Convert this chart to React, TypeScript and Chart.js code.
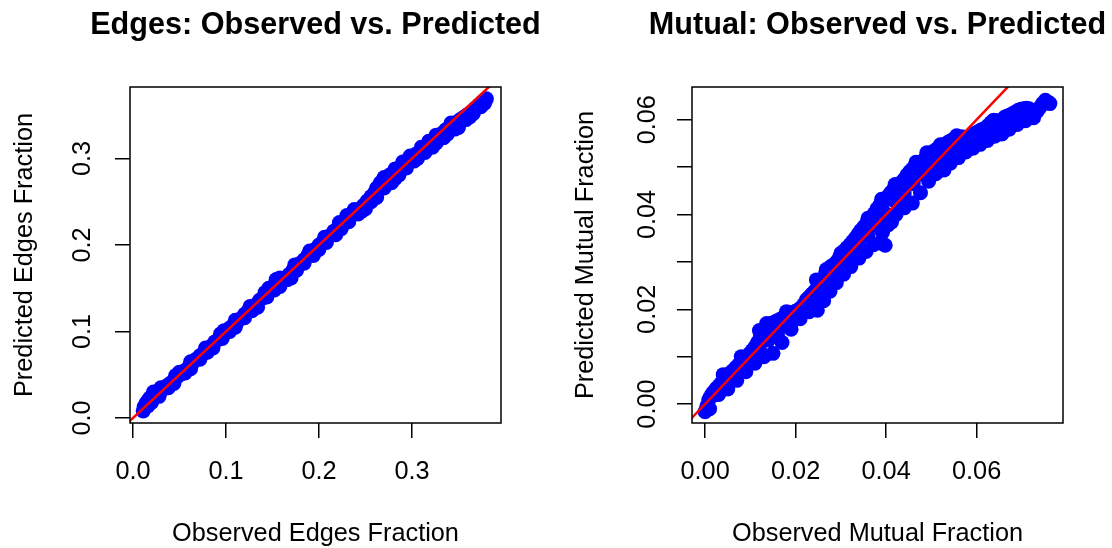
import React, { useEffect, useRef } from "react";
import { Chart, registerables } from "chart.js";

Chart.register(...registerables);

// ---------- data ----------
const edgesTitle = "Edges: Observed vs. Predicted";
const mutualTitle = "Mutual: Observed vs. Predicted";

const edgesXTicks = [0.0, 0.1, 0.2, 0.3];
const edgesXTickLabels = ["0.0", "0.1", "0.2", "0.3"];
const edgesYTicks = [0.0, 0.1, 0.2, 0.3];
const edgesYTickLabels = ["0.0", "0.1", "0.2", "0.3"];
const edgesXRange = [-0.0032, 0.3957];
const edgesYRange = [-0.0058, 0.3827];
const edgesRefLine = [-0.01, 0.42];

const mutualXTicks = [0.0, 0.02, 0.04, 0.06];
const mutualXTickLabels = ["0.00", "0.02", "0.04", "0.06"];
const mutualYTicks = [0.0, 0.01, 0.02, 0.03, 0.04, 0.05, 0.06];
const mutualYTickLabels = ["0.00", "", "0.02", "", "0.04", "", "0.06"];
const mutualXRange = [-0.0029, 0.0791];
const mutualYRange = [-0.004, 0.0669];
const mutualRefLine = [-0.01, 0.09];

// [observed, predicted]
const edgesPoints: [number, number][] = [
  [0.011, 0.008], [0.012, 0.013], [0.014, 0.017], [0.016, 0.02], [0.018, 0.023],
  [0.021, 0.025], [0.024, 0.027], [0.027, 0.029], [0.03, 0.031], [0.033, 0.034],
  [0.036, 0.037], [0.04, 0.04], [0.044, 0.044], [0.048, 0.048], [0.052, 0.051],
  [0.056, 0.055], [0.06, 0.059], [0.064, 0.063], [0.068, 0.068], [0.072, 0.072],
  [0.076, 0.075], [0.08, 0.079], [0.084, 0.083], [0.088, 0.088], [0.092, 0.091],
  [0.096, 0.095], [0.1, 0.099], [0.104, 0.104], [0.108, 0.107], [0.112, 0.111],
  [0.116, 0.115], [0.12, 0.12], [0.124, 0.124], [0.128, 0.127], [0.132, 0.131],
  [0.136, 0.136], [0.14, 0.139], [0.144, 0.144], [0.148, 0.148], [0.152, 0.153],
  [0.156, 0.157], [0.16, 0.16], [0.164, 0.162], [0.168, 0.166], [0.172, 0.171],
  [0.176, 0.175], [0.18, 0.179], [0.184, 0.183], [0.188, 0.188], [0.192, 0.191],
  [0.196, 0.195], [0.2, 0.2], [0.204, 0.203], [0.208, 0.207], [0.212, 0.211],
  [0.216, 0.216], [0.22, 0.219], [0.224, 0.224], [0.228, 0.228], [0.232, 0.232],
  [0.236, 0.236], [0.24, 0.239], [0.244, 0.242], [0.248, 0.246], [0.252, 0.251],
  [0.256, 0.256], [0.26, 0.261], [0.264, 0.267], [0.268, 0.273], [0.272, 0.278],
  [0.276, 0.281], [0.28, 0.284], [0.284, 0.287], [0.288, 0.291], [0.292, 0.295],
  [0.296, 0.299], [0.3, 0.302], [0.304, 0.305], [0.308, 0.307], [0.312, 0.311],
  [0.316, 0.314], [0.32, 0.318], [0.324, 0.321], [0.328, 0.325], [0.332, 0.329],
  [0.336, 0.333], [0.34, 0.336], [0.344, 0.339], [0.348, 0.342], [0.352, 0.345],
  [0.356, 0.348], [0.36, 0.351], [0.364, 0.354], [0.368, 0.358], [0.372, 0.362],
  [0.376, 0.366], [0.38, 0.369],
  [0.02, 0.018], [0.038, 0.035], [0.062, 0.057], [0.086, 0.081], [0.11, 0.105],
  [0.134, 0.128], [0.158, 0.152], [0.17, 0.162], [0.194, 0.188], [0.218, 0.212],
  [0.242, 0.236], [0.25, 0.242], [0.262, 0.255], [0.278, 0.272], [0.286, 0.281],
  [0.306, 0.3], [0.322, 0.313], [0.334, 0.324], [0.35, 0.336], [0.362, 0.348],
  [0.374, 0.36],
  [0.05, 0.053], [0.098, 0.101], [0.146, 0.15], [0.154, 0.16], [0.23, 0.234],
  [0.266, 0.272], [0.29, 0.296], [0.318, 0.32],
  [0.016, 0.014], [0.028, 0.025], [0.044, 0.04], [0.056, 0.052], [0.072, 0.068],
  [0.08, 0.076], [0.096, 0.092], [0.104, 0.1], [0.12, 0.116], [0.128, 0.124],
  [0.144, 0.14], [0.152, 0.148], [0.166, 0.16], [0.176, 0.171], [0.184, 0.179],
  [0.2, 0.195], [0.208, 0.203], [0.224, 0.219], [0.232, 0.227], [0.246, 0.239],
  [0.256, 0.25], [0.27, 0.266], [0.282, 0.277], [0.294, 0.289], [0.302, 0.297],
  [0.314, 0.307], [0.326, 0.318], [0.338, 0.328], [0.346, 0.334], [0.358, 0.345],
  [0.366, 0.352], [0.378, 0.364],
  [0.022, 0.03], [0.03, 0.035], [0.046, 0.049], [0.062, 0.065], [0.078, 0.081],
  [0.094, 0.097], [0.11, 0.113], [0.126, 0.129], [0.142, 0.145], [0.158, 0.162],
  [0.174, 0.177], [0.19, 0.193], [0.206, 0.209], [0.222, 0.226], [0.238, 0.241],
  [0.262, 0.266], [0.27, 0.278], [0.282, 0.288], [0.298, 0.303], [0.31, 0.313],
  [0.326, 0.327], [0.342, 0.341],
];

const mutualPoints: [number, number][] = [
  [0.0, -0.0016], [0.0004, -0.0004], [0.0008, 0.0009], [0.0012, 0.0016], [0.0016, 0.0022],
  [0.002, 0.0027], [0.0025, 0.0033], [0.003, 0.0038], [0.0035, 0.0043], [0.004, 0.0048],
  [0.0045, 0.0054], [0.005, 0.006], [0.0056, 0.0066], [0.0062, 0.0071], [0.0068, 0.0077],
  [0.0074, 0.0083], [0.008, 0.0089], [0.0086, 0.0094], [0.0092, 0.01], [0.0098, 0.0106],
  [0.0104, 0.0113], [0.011, 0.012], [0.0116, 0.013], [0.0122, 0.0142], [0.0128, 0.0152],
  [0.0134, 0.0162], [0.014, 0.0167], [0.0146, 0.017], [0.0152, 0.0172], [0.0158, 0.0175],
  [0.0164, 0.0178], [0.017, 0.0181], [0.0176, 0.0184], [0.0182, 0.0187], [0.0188, 0.019],
  [0.0194, 0.0193], [0.02, 0.0196], [0.0206, 0.0199], [0.0212, 0.0203], [0.0218, 0.021],
  [0.0224, 0.022], [0.023, 0.0226], [0.0236, 0.0232], [0.0242, 0.0238], [0.0248, 0.0245],
  [0.0254, 0.0252], [0.026, 0.0262], [0.0266, 0.0275], [0.0272, 0.0284], [0.0278, 0.029],
  [0.0284, 0.0294], [0.029, 0.0299], [0.0296, 0.0307], [0.0302, 0.0316], [0.0308, 0.0324],
  [0.0314, 0.033], [0.032, 0.0336], [0.0326, 0.0343], [0.0332, 0.035], [0.0338, 0.0358],
  [0.0344, 0.0366], [0.035, 0.0373], [0.0356, 0.038], [0.0362, 0.0385], [0.0368, 0.0392],
  [0.0374, 0.0402], [0.038, 0.0412], [0.0386, 0.042], [0.0392, 0.0426], [0.0398, 0.043],
  [0.0404, 0.0438], [0.041, 0.0446], [0.0416, 0.0452], [0.0422, 0.0457], [0.0428, 0.0463],
  [0.0434, 0.0468], [0.044, 0.0474], [0.0446, 0.0483], [0.0452, 0.049], [0.0458, 0.0496],
  [0.0464, 0.05], [0.047, 0.0505], [0.0476, 0.0509], [0.0482, 0.0514], [0.0488, 0.052],
  [0.0494, 0.0526], [0.05, 0.053], [0.0506, 0.0534], [0.0512, 0.0538], [0.0518, 0.0542],
  [0.0524, 0.0545], [0.053, 0.0548], [0.0536, 0.0552], [0.0542, 0.0555], [0.0548, 0.0558],
  [0.0554, 0.0561], [0.056, 0.0563], [0.0566, 0.0564], [0.0572, 0.0563], [0.0578, 0.0562],
  [0.0584, 0.0564], [0.059, 0.0568], [0.0596, 0.0571], [0.0602, 0.0574], [0.0608, 0.0577],
  [0.0614, 0.058], [0.062, 0.0583], [0.0626, 0.0588], [0.0632, 0.0594], [0.0638, 0.0599],
  [0.0644, 0.0598], [0.065, 0.0596], [0.0656, 0.06], [0.0662, 0.0605], [0.0668, 0.0608],
  [0.0674, 0.061], [0.068, 0.0613], [0.0686, 0.0616], [0.0692, 0.062], [0.0698, 0.0622],
  [0.0704, 0.0623], [0.071, 0.0624], [0.0716, 0.0623], [0.0722, 0.0619], [0.0728, 0.0612],
  [0.0734, 0.0618], [0.074, 0.0626], [0.0746, 0.0634], [0.0752, 0.0641], [0.0758, 0.0637],
  [0.0762, 0.0634],
  [0.001, -0.001], [0.003, 0.002], [0.005, 0.0032], [0.007, 0.005], [0.009, 0.0068],
  [0.011, 0.0086], [0.013, 0.01], [0.015, 0.0107], [0.017, 0.013], [0.019, 0.0158],
  [0.021, 0.018], [0.023, 0.0195], [0.0248, 0.0198], [0.0262, 0.0218], [0.0276, 0.0238],
  [0.029, 0.0256], [0.0306, 0.0274], [0.0322, 0.029], [0.034, 0.0308], [0.0356, 0.0322],
  [0.0372, 0.0336], [0.0386, 0.034], [0.0398, 0.0335], [0.0392, 0.0362], [0.0404, 0.0378],
  [0.0412, 0.0384], [0.0422, 0.04], [0.044, 0.0414], [0.0458, 0.0424], [0.0476, 0.0446],
  [0.0494, 0.047], [0.051, 0.0486], [0.0528, 0.0494], [0.0542, 0.0508], [0.056, 0.052],
  [0.0576, 0.0532], [0.0592, 0.054], [0.0608, 0.0548], [0.0624, 0.0556], [0.064, 0.0565],
  [0.0656, 0.057], [0.0672, 0.058], [0.069, 0.059], [0.0708, 0.0598], [0.0726, 0.0604],
  [0.004, 0.0062], [0.008, 0.01], [0.012, 0.0155], [0.0136, 0.017], [0.018, 0.0195],
  [0.0246, 0.0262], [0.0268, 0.0284], [0.03, 0.0318], [0.036, 0.0392], [0.039, 0.0432],
  [0.042, 0.0463], [0.0466, 0.051], [0.049, 0.053], [0.052, 0.0547], [0.0556, 0.0566],
  [0.002, 0.0019], [0.004, 0.0037], [0.006, 0.0053], [0.008, 0.0074], [0.01, 0.0093],
  [0.012, 0.0115], [0.014, 0.0135], [0.016, 0.0147], [0.018, 0.0165], [0.02, 0.0182],
  [0.022, 0.0201], [0.024, 0.0217], [0.026, 0.0238], [0.028, 0.027], [0.03, 0.0288],
  [0.032, 0.0312], [0.034, 0.0335], [0.036, 0.0355], [0.038, 0.0377], [0.04, 0.0401],
  [0.042, 0.0428], [0.044, 0.0444], [0.046, 0.0465], [0.048, 0.0485], [0.05, 0.0503],
  [0.052, 0.0517], [0.054, 0.053], [0.056, 0.0541], [0.058, 0.0548], [0.06, 0.0559],
  [0.062, 0.0569], [0.064, 0.0581], [0.066, 0.0589], [0.068, 0.0598], [0.07, 0.0608],
  [0.072, 0.0611],
];

// ---------- styling ----------
const FONT = "Arial, 'Liberation Sans', Helvetica, sans-serif";
const LABEL_SIZE = 25.3;
const TITLE_SIZE = 30.6;

interface PanelSpec {
  title: string;
  xTitle: string;
  yTitle: string;
  points: [number, number][];
  refLine: number[];
  xRange: number[];
  yRange: number[];
  xTicks: number[];
  xTickLabels: string[];
  yTicks: number[];
  yTickLabels: string[];
  canvasLeft: number;
  canvasWidth: number;
  yAxisWidth: number;
  yTickPad: number;
  yTitlePad: number;
}

const boxPlugin = {
  id: "rbox",
  afterDraw(chart: any) {
    const { ctx, chartArea } = chart;
    ctx.save();
    ctx.strokeStyle = "#000";
    ctx.lineWidth = 1.5;
    ctx.strokeRect(chartArea.left, chartArea.top, chartArea.right - chartArea.left, chartArea.bottom - chartArea.top);
    ctx.restore();
  },
};

function makeConfig(p: PanelSpec): any {
  const tLine = TITLE_SIZE * 1.2;
  const tTop = 35 - 0.3 * TITLE_SIZE - tLine / 2;
  const grid = {
    drawOnChartArea: false,
    drawTicks: true,
    tickLength: 15,
    color: "#000",
    lineWidth: 1.5,
  };
  return {
    type: "scatter",
    data: {
      datasets: [
        {
          data: p.refLine.map((v) => ({ x: v, y: v })),
          showLine: true,
          borderColor: "#FF0000",
          borderWidth: 2.5,
          pointRadius: 0,
          pointHoverRadius: 0,
        },
        {
          data: p.points.map(([x, y]) => ({ x, y })),
          backgroundColor: "#0000FF",
          borderWidth: 0,
          pointRadius: 7.5,
          pointHoverRadius: 7.5,
        },
      ],
    },
    plugins: [boxPlugin],
    options: {
      animation: false,
      responsive: false,
      events: [],
      layout: { padding: 0 },
      plugins: {
        legend: { display: false },
        tooltip: { enabled: false },
        title: {
          display: true,
          text: p.title,
          color: "#000",
          font: { family: FONT, size: TITLE_SIZE, weight: "bold", lineHeight: 1.2 },
          padding: { top: tTop, bottom: 87 - tTop - tLine },
        },
      },
      scales: {
        x: {
          type: "linear",
          min: p.xRange[0],
          max: p.xRange[1],
          afterBuildTicks: (s: any) => {
            s.ticks = p.xTicks.map((v) => ({ value: v }));
          },
          afterFit: (s: any) => {
            s.height = 125;
          },
          ticks: {
            callback: (_v: any, i: number) => p.xTickLabels[i],
            autoSkip: false,
            maxRotation: 0,
            minRotation: 0,
            includeBounds: false,
            color: "#000",
            padding: 21.4,
            font: { family: FONT, size: LABEL_SIZE, lineHeight: 1 },
          },
          grid,
          border: { display: false },
          title: {
            display: true,
            text: p.xTitle,
            color: "#000",
            font: { family: FONT, size: LABEL_SIZE, lineHeight: 1 },
            padding: { top: 0, bottom: 1 },
          },
        },
        y: {
          type: "linear",
          position: "left",
          min: p.yRange[0],
          max: p.yRange[1],
          afterBuildTicks: (s: any) => {
            s.ticks = p.yTicks.map((v) => ({ value: v }));
          },
          afterFit: (s: any) => {
            s.width = p.yAxisWidth;
          },
          ticks: {
            callback: (_v: any, i: number) => p.yTickLabels[i],
            autoSkip: false,
            minRotation: 90,
            maxRotation: 90,
            crossAlign: "center",
            includeBounds: false,
            color: "#000",
            padding: p.yTickPad,
            font: { family: FONT, size: LABEL_SIZE, lineHeight: 1 },
          },
          grid,
          border: { display: false },
          title: {
            display: true,
            text: p.yTitle,
            color: "#000",
            font: { family: FONT, size: LABEL_SIZE, lineHeight: 1 },
            padding: { top: p.yTitlePad, bottom: 0 },
          },
        },
        // empty spacer on the right so the title centres over the plot box
        spacer: {
          type: "linear",
          position: "right",
          min: 0,
          max: 1,
          ticks: { display: false },
          grid: { display: false },
          border: { display: false },
          title: { display: false },
          afterFit: (s: any) => {
            s.width = p.yAxisWidth;
          },
        },
      },
    },
  };
}

const panels: PanelSpec[] = [
  {
    title: edgesTitle,
    xTitle: "Observed Edges Fraction",
    yTitle: "Predicted Edges Fraction",
    points: edgesPoints,
    refLine: edgesRefLine,
    xRange: edgesXRange,
    yRange: edgesYRange,
    xTicks: edgesXTicks,
    xTickLabels: edgesXTickLabels,
    yTicks: edgesYTicks,
    yTickLabels: edgesYTickLabels,
    canvasLeft: 0,
    canvasWidth: 631,
    yAxisWidth: 130,
    yTickPad: 14.4,
    yTitlePad: 12.2,
  },
  {
    title: mutualTitle,
    xTitle: "Observed Mutual Fraction",
    yTitle: "Predicted Mutual Fraction",
    points: mutualPoints,
    refLine: mutualRefLine,
    xRange: mutualXRange,
    yRange: mutualYRange,
    xTicks: mutualXTicks,
    xTickLabels: mutualXTickLabels,
    yTicks: mutualYTicks,
    yTickLabels: mutualYTickLabels,
    canvasLeft: 556,
    canvasWidth: 643,
    yAxisWidth: 136,
    yTickPad: 4.4,
    yTitlePad: 17.4,
  },
];

function Panel({ spec }: { spec: PanelSpec }) {
  const ref = useRef<HTMLCanvasElement | null>(null);
  useEffect(() => {
    if (!ref.current) return;
    const chart = new Chart(ref.current, makeConfig(spec));
    return () => chart.destroy();
  }, [spec]);
  return (
    <canvas
      ref={ref}
      width={spec.canvasWidth}
      height={548}
      style={{
        position: "absolute",
        left: spec.canvasLeft,
        top: 0,
        width: spec.canvasWidth,
        height: 548,
        display: "block",
      }}
    />
  );
}

export default function App() {
  useEffect(() => {
    document.body.style.margin = "0";
  }, []);
  return (
    <div
      style={{
        position: "fixed",
        left: 0,
        top: 0,
        width: 1112,
        height: 548,
        overflow: "hidden",
        background: "#fff",
      }}
    >
      {panels.map((p, i) => (
        <Panel key={i} spec={p} />
      ))}
    </div>
  );
}
